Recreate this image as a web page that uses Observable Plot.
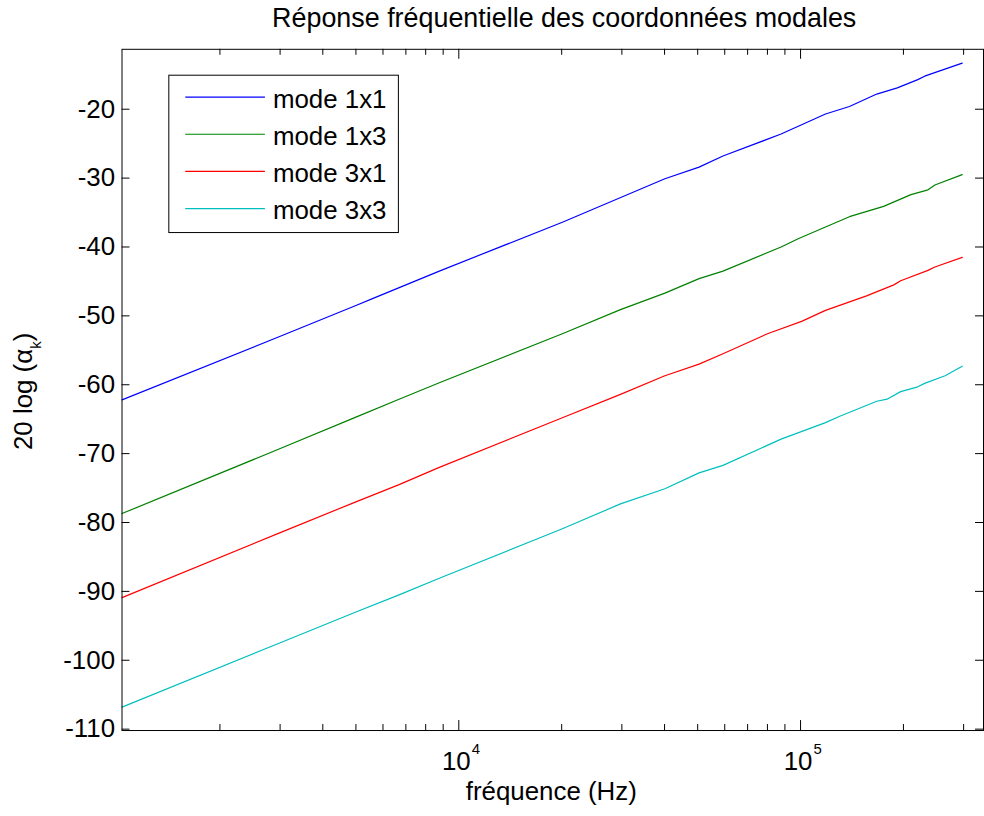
<!DOCTYPE html>
<html><head><meta charset="utf-8">
<script src="https://cdn.jsdelivr.net/npm/d3@7"></script>
<script src="https://cdn.jsdelivr.net/npm/@observablehq/plot@0.6"></script>
<style>
html,body{margin:0;padding:0;background:#fff;overflow:hidden;}
#chart{width:984px;height:816px;overflow:hidden;}
</style></head><body><div id="chart"></div>
<script>
const modes = ["mode 1x1", "mode 1x3", "mode 3x1", "mode 3x3"];
const colors = ["#0000ff", "#008000", "#ff0000", "#00bfbf"];

const freq1x1 = [1034, 2991, 5000, 5591, 8770, 20090, 40090, 50470, 59290, 87700, 118300, 139000, 167100, 191900, 220300, 230700, 297200];
const val1x1  = [-62.2, -53.0, -48.5, -47.5, -43.5, -36.4, -30.1, -28.4, -26.8, -23.6, -20.7, -19.6, -17.8, -16.9, -15.7, -15.2, -13.3];

const freq1x3 = [1034, 2991, 5000, 6687, 8770, 20090, 29720, 40090, 50470, 59290, 87700, 98400, 118300, 139000, 175000, 210400, 236000, 247200, 297200];
const val1x3  = [-78.7, -69.3, -64.7, -62.1, -59.7, -52.6, -49.1, -46.7, -44.6, -43.5, -40.0, -38.8, -37.1, -35.6, -34.1, -32.4, -31.7, -31.0, -29.5];

const freq3x1 = [1034, 2991, 5000, 6687, 8770, 20090, 29720, 40090, 50470, 59290, 80000, 100700, 118300, 156000, 187500, 196300, 236000, 247200, 297200];
const val3x1  = [-90.9, -81.5, -77.0, -74.5, -72.0, -64.8, -61.4, -58.7, -57.0, -55.5, -52.6, -50.8, -49.2, -47.1, -45.5, -44.9, -43.4, -42.9, -41.5];

const freq3x3 = [1034, 2991, 5000, 6687, 8770, 20090, 29720, 40090, 50470, 59290, 87700, 118300, 129700, 167100, 179100, 196300, 220300, 230700, 264800, 297200];
const val3x3  = [-106.8, -97.5, -93.0, -90.5, -88.1, -80.9, -77.3, -75.1, -72.8, -71.7, -67.9, -65.5, -64.6, -62.4, -62.1, -61.0, -60.3, -59.8, -58.7, -57.3];

const yTicks = [-110, -100, -90, -80, -70, -60, -50, -40, -30, -20];
const xMajor = [1e4, 1e5];
const xMajorExp = ["4", "5"];
const xMinor = [2000, 3000, 4000, 5000, 6000, 7000, 8000, 9000,
                20000, 30000, 40000, 50000, 60000, 70000, 80000, 90000,
                200000, 300000];

const title = "Réponse fréquentielle des coordonnées modales";
const xLabel = "fréquence (Hz)";

const series = [[freq1x1, val1x1], [freq1x3, val1x3], [freq3x1, val3x1], [freq3x3, val3x3]];
const data = series.flatMap(([fs, vs], i) => fs.map((f, j) => ({mode: modes[i], f, v: vs[j]})));

const W = 988, H = 816, mT = 49, mB = 83, mL = 122, mR = 1;
const pw = W - mL - mR, ph = H - mT - mB;
const font = "'Liberation Sans', Arial, Helvetica, sans-serif";

const chart = Plot.plot({
  width: W, height: H,
  marginTop: mT, marginBottom: mB, marginLeft: mL, marginRight: mR,
  x: {type: "log", domain: [1034, 343000], axis: null},
  y: {domain: [-110.2, -11.3], axis: null},
  color: {domain: modes, range: colors},
  style: {fontFamily: font, fontSize: "26px", background: "white", color: "black"},
  marks: [
    Plot.line(data, {x: "f", y: "v", z: "mode", stroke: "mode", strokeWidth: 1.2}),
    Plot.frame({stroke: "black", strokeWidth: 1}),
    Plot.tickX(xMinor, {x: d => d, insetTop: ph - 6, stroke: "black"}),
    Plot.tickX(xMinor, {x: d => d, insetBottom: ph - 6, stroke: "black"}),
    Plot.tickX(xMajor, {x: d => d, insetTop: ph - 10, stroke: "black"}),
    Plot.tickX(xMajor, {x: d => d, insetBottom: ph - 10, stroke: "black"}),
    Plot.tickY(yTicks, {y: d => d, insetRight: pw - 8, stroke: "black"}),
    Plot.tickY(yTicks, {y: d => d, insetLeft: pw - 8, stroke: "black"}),
    Plot.text(yTicks, {y: d => d, text: d => String(d), frameAnchor: "left", textAnchor: "end", dx: -7, fontSize: 26, fill: "black"}),
    Plot.text(xMajor, {x: d => d, text: () => "10", frameAnchor: "bottom", lineAnchor: "bottom", textAnchor: "end", dx: 12, dy: 40, fontSize: 26, fill: "black"}),
    Plot.text(xMajor, {x: d => d, text: (d, i) => xMajorExp[i], frameAnchor: "bottom", lineAnchor: "bottom", textAnchor: "start", dx: 13, dy: 24, fontSize: 15, fill: "black"}),
    Plot.text([title], {text: d => d, frameAnchor: "top", lineAnchor: "bottom", dx: 11.5, dy: -22, fontSize: 27, fill: "black"}),
    Plot.text([xLabel], {text: d => d, frameAnchor: "bottom", lineAnchor: "bottom", dx: -1.5, dy: 70, fontSize: 26, fill: "black"})
  ]
});

document.getElementById("chart").appendChild(chart);

const svg = d3.select(chart);
const yl = svg.append("text")
  .attr("transform", "translate(32,393) rotate(-90)")
  .attr("text-anchor", "middle")
  .attr("font-family", font)
  .attr("font-size", 26)
  .attr("fill", "black");
yl.append("tspan").text("20 log (α");
yl.append("tspan").attr("font-size", 15).attr("dy", 9).text("k");
yl.append("tspan").attr("dy", -9).text(")");

const lg = svg.append("g");
lg.append("rect").attr("x", 169.5).attr("y", 75.5).attr("width", 230.5).attr("height", 158)
  .attr("fill", "white").attr("stroke", "black").attr("stroke-width", 1);
modes.forEach((m, i) => {
  const yy = 97.5 + i * 37.3;
  lg.append("line").attr("x1", 186).attr("x2", 266).attr("y1", yy).attr("y2", yy)
    .attr("stroke", colors[i]).attr("stroke-width", 1.2);
  lg.append("text").attr("x", 274).attr("y", yy + 10.5)
    .attr("text-anchor", "start")
    .attr("font-family", font).attr("font-size", 26).attr("fill", "black").text(m);
});
</script></body></html>
